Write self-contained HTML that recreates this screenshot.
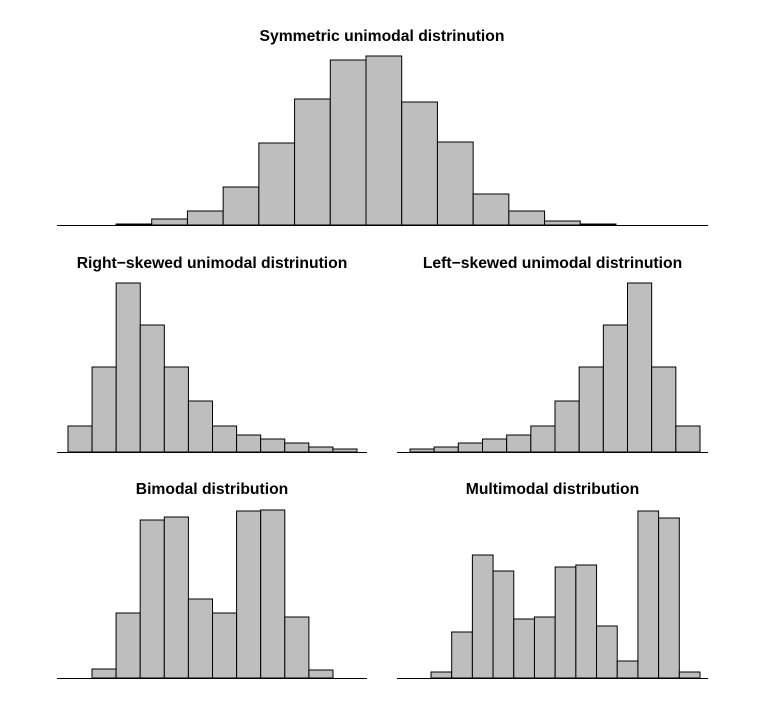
<!DOCTYPE html>
<html><head><meta charset="utf-8"><style>
html,body{margin:0;padding:0;background:#fff}
svg{display:block}
text{font-family:"Liberation Sans",Arial,sans-serif;font-weight:bold;font-size:15.7px;fill:#000}
</style></head><body>
<svg id="chart" width="764" height="710" viewBox="0 0 764 710"></svg>
<script>
const symValues = [1,6,14,38,82,126,165,169,123,83,31,14,4,1];
const rightValues = [26,85,169,127,85,51,26,17,13,9,5,3];
const leftValues = [3,5,9,13,17,26,51,85,127,169,85,26];
const biValues = [9,65,158,161,79,65,167,168,61,8];
const multiValues = [6,46,123,107,59,61,111,113,52,17,167,160,6];
const titles = ["Symmetric unimodal distrinution","Right\u2212skewed unimodal distrinution","Left\u2212skewed unimodal distrinution","Bimodal distribution","Multimodal distribution"];

const NS = "http://www.w3.org/2000/svg";
const svg = document.getElementById("chart");
function mk(tag, attrs, parent){const e=document.createElementNS(NS,tag);for(const k in attrs)e.setAttribute(k,attrs[k]);(parent||svg).appendChild(e);return e;}

const panels = [
  {name:"symmetric", vals:symValues, title:titles[0], ax0:57, ax1:708, base:225, bx0:116, bx1:616, ty:41},
  {name:"right-skewed", vals:rightValues, title:titles[1], ax0:57, ax1:367, base:452, bx0:68, bx1:357, ty:268},
  {name:"left-skewed", vals:leftValues, title:titles[2], ax0:397, ax1:708, base:452, bx0:410, bx1:700, ty:268},
  {name:"bimodal", vals:biValues, title:titles[3], ax0:57, ax1:367, base:678, bx0:92, bx1:333, ty:494},
  {name:"multimodal", vals:multiValues, title:titles[4], ax0:397, ax1:708, base:678, bx0:431, bx1:700, ty:494}
];

panels.forEach(p=>{
  const g = mk("g",{});
  
  
  const n = p.vals.length;
  const w = (p.bx1-p.bx0)/n;
  const xScale = i => p.bx0 + i*w;
  const yScale = v => p.base - v;
  p.vals.forEach((v,i)=>{
    const r = mk("rect",{x:xScale(i),y:yScale(v),width:w,height:p.base-yScale(v),fill:"#bebebe",stroke:"#000","stroke-width":1},g);
    
    
  });
  const ax = mk("line",{x1:p.ax0,x2:p.ax1,y1:p.base+0.5,y2:p.base+0.5,stroke:"#000","stroke-width":1},g);
  
  
  const t = mk("text",{x:(p.ax0+p.ax1)/2+ (p.name==="symmetric"?-0.5:0),y:p.ty,"text-anchor":"middle"},g);
  t.textContent = p.title;
  
  
});
</script>
</body></html>
